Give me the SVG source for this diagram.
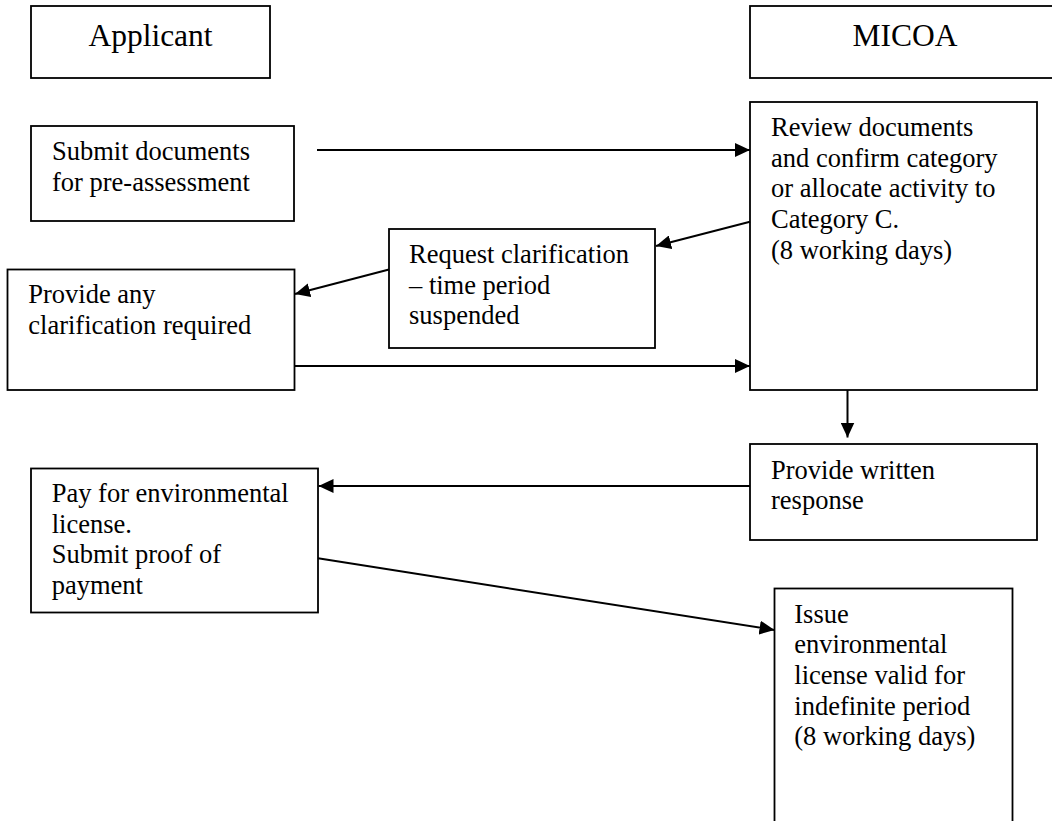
<svg xmlns="http://www.w3.org/2000/svg" width="1052" height="821" viewBox="0 0 1052 821">
<style>
  .box { fill: #ffffff; stroke: #000000; stroke-width: 1.8; }
  .t { font-family: "Liberation Serif", "Times New Roman", serif; font-size: 26.5px; fill: #000000; }
  .h { font-family: "Liberation Serif", "Times New Roman", serif; font-size: 31.5px; fill: #000000; }
  .c { stroke: #000000; stroke-width: 2; fill: none; }
</style>
<defs>
  <marker id="arr" markerUnits="userSpaceOnUse" markerWidth="16" markerHeight="14" refX="15" refY="7" orient="auto">
    <path d="M0,0 L15,7 L0,14 z" fill="#000000"/>
  </marker>
</defs>
<rect x="0" y="0" width="1052" height="821" fill="#ffffff"/>

<g id="applicant">
  <rect class="box" x="31" y="6" width="239" height="72"/>
  <text class="h" x="150.5" y="46" text-anchor="middle">Applicant</text>
</g>
<g id="micoa">
  <rect class="box" x="750" y="6" width="320" height="72"/>
  <text class="h" x="905" y="46" text-anchor="middle">MICOA</text>
</g>
<g id="submit">
  <rect class="box" x="31" y="126" width="263" height="95"/>
  <text class="t" x="52" y="160">Submit documents</text>
  <text class="t" x="52" y="190.7">for pre-assessment</text>
</g>
<g id="review">
  <rect class="box" x="750" y="102" width="287" height="288"/>
  <text class="t" x="771" y="136">Review documents</text>
  <text class="t" x="771" y="166.7">and confirm category</text>
  <text class="t" x="771" y="197.3">or allocate activity to</text>
  <text class="t" x="771" y="228">Category C.</text>
  <text class="t" x="771" y="258.6">(8 working days)</text>
</g>
<g id="request">
  <rect class="box" x="389" y="229" width="266" height="119"/>
  <text class="t" x="409" y="263.3">Request clarification</text>
  <text class="t" x="409" y="293.8">– time period</text>
  <text class="t" x="409" y="324.3">suspended</text>
</g>
<g id="provide-clarification">
  <rect class="box" x="7.5" y="269.5" width="287" height="120.5"/>
  <text class="t" x="28.3" y="303.3">Provide any</text>
  <text class="t" x="28.3" y="333.6">clarification required</text>
</g>
<g id="written">
  <rect class="box" x="750" y="444" width="287" height="96"/>
  <text class="t" x="771" y="478.5">Provide written</text>
  <text class="t" x="771" y="509">response</text>
</g>
<g id="pay">
  <rect class="box" x="31" y="468.5" width="287" height="144"/>
  <text class="t" x="51.7" y="502">Pay for environmental</text>
  <text class="t" x="51.7" y="532.5">license.</text>
  <text class="t" x="51.7" y="563">Submit proof of</text>
  <text class="t" x="51.7" y="593.5">payment</text>
</g>
<g id="issue">
  <rect class="box" x="774.5" y="588.5" width="238" height="250"/>
  <text class="t" x="794.3" y="622.7">Issue</text>
  <text class="t" x="794.3" y="653.3">environmental</text>
  <text class="t" x="794.3" y="684">license valid for</text>
  <text class="t" x="794.3" y="714.6">indefinite period</text>
  <text class="t" x="794.3" y="745.2">(8 working days)</text>
</g>

<g id="connectors">
  <line class="c" x1="317" y1="150" x2="750" y2="150" marker-end="url(#arr)"/>
  <line class="c" x1="750" y1="221.7" x2="656" y2="246" marker-end="url(#arr)"/>
  <line class="c" x1="389" y1="269.5" x2="295" y2="294" marker-end="url(#arr)"/>
  <line class="c" x1="294.5" y1="366" x2="750" y2="366" marker-end="url(#arr)"/>
  <line class="c" x1="847.5" y1="390" x2="847.5" y2="437.5" marker-end="url(#arr)"/>
  <line class="c" x1="750" y1="486" x2="318.5" y2="486" marker-end="url(#arr)"/>
  <line class="c" x1="318" y1="558.3" x2="774.5" y2="630" marker-end="url(#arr)"/>
</g>
</svg>
